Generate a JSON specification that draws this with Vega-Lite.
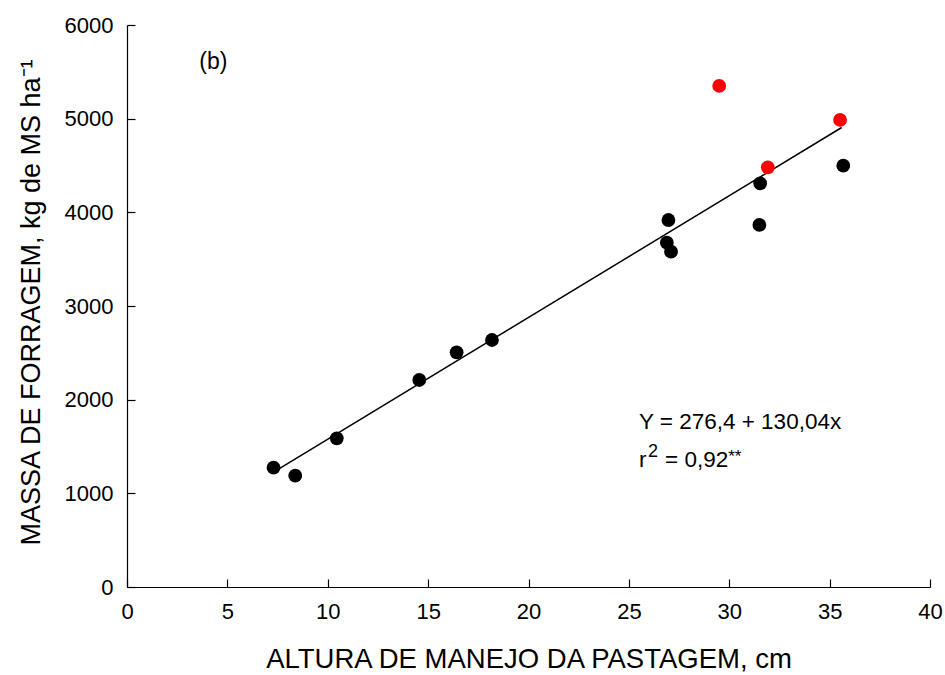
{
  "$schema": "https://vega.github.io/schema/vega-lite/v6.json",
  "autosize": {"type": "none"},
  "width": 803,
  "height": 562,
  "padding": {"left": 127, "top": 25, "right": 15, "bottom": 88},
  "background": "white",
  "config": {
    "view": {"stroke": null},
    "font": "Liberation Sans",
    "axis": {
      "grid": false,
      "domainColor": "black",
      "domainWidth": 1.2,
      "tickColor": "black",
      "tickWidth": 1.2,
      "tickSize": -8,
      "labelFont": "Liberation Sans",
      "labelFontSize": 22,
      "labelColor": "black",
      "titleFont": "Liberation Sans",
      "titleFontWeight": "normal",
      "titleColor": "black",
      "format": "d"
    }
  },
  "datasets": {
    "pts": [
      {"altura": 7.30, "massa": 1274, "grupo": "a"},
      {"altura": 8.38, "massa": 1188, "grupo": "a"},
      {"altura": 10.45, "massa": 1587, "grupo": "a"},
      {"altura": 14.56, "massa": 2210, "grupo": "a"},
      {"altura": 16.42, "massa": 2505, "grupo": "a"},
      {"altura": 18.18, "massa": 2637, "grupo": "a"},
      {"altura": 26.97, "massa": 3918, "grupo": "a"},
      {"altura": 26.89, "massa": 3676, "grupo": "a"},
      {"altura": 27.10, "massa": 3580, "grupo": "a"},
      {"altura": 31.54, "massa": 4310, "grupo": "a"},
      {"altura": 31.50, "massa": 3865, "grupo": "a"},
      {"altura": 35.68, "massa": 4498, "grupo": "a"},
      {"altura": 29.50, "massa": 5349, "grupo": "b"},
      {"altura": 31.92, "massa": 4481, "grupo": "b"},
      {"altura": 35.52, "massa": 4986, "grupo": "b"}
    ],
    "fit": [
      {"altura": 7.3, "massa": 1225.7},
      {"altura": 35.6, "massa": 4905.8}
    ],
    "one": [{}]
  },
  "layer": [
    {
      "data": {"name": "fit"},
      "mark": {"type": "line", "color": "black", "strokeWidth": 1.5},
      "encoding": {
        "x": {"field": "altura", "type": "quantitative", "scale": {"domain": [0, 40]},
          "axis": {"values": [0,5,10,15,20,25,30,35,40], "format": "d", "labelFlush": false, "title": "ALTURA DE MANEJO DA PASTAGEM, cm", "titleFontSize": 27.5, "titleBaseline": "alphabetic", "titleY": 80, "labelPadding": 22}},
        "y": {"field": "massa", "type": "quantitative", "scale": {"domain": [0, 6000]},
          "axis": {"values": [0,1000,2000,3000,4000,5000,6000], "format": "d", "labelFlush": false, "title": "MASSA DE FORRAGEM, kg de MS ha⁻¹", "titleFontSize": 27, "titleBaseline": "alphabetic", "titleX": -88, "titleY": 277, "titleAngle": 270, "labelPadding": 22}}
      }
    },
    {
      "data": {"name": "pts"},
      "mark": {"type": "point", "filled": true, "opacity": 1, "size": 190, "shape": "circle"},
      "encoding": {
        "x": {"field": "altura", "type": "quantitative"},
        "y": {"field": "massa", "type": "quantitative"},
        "color": {"field": "grupo", "type": "nominal", "scale": {"domain": ["a", "b"], "range": ["#000000", "#ff0000"]}, "legend": null}
      }
    },
    {
      "data": {"name": "one"},
      "mark": {"type": "text", "text": "(b)", "fontSize": 23, "align": "left", "baseline": "middle", "color": "black"},
      "encoding": {"x": {"datum": 3.6}, "y": {"datum": 5605}}
    },
    {
      "data": {"name": "one"},
      "mark": {"type": "text", "text": "Y = 276,4 + 130,04x", "fontSize": 22.5, "align": "left", "baseline": "alphabetic", "color": "black"},
      "encoding": {"x": {"datum": 25.5}, "y": {"datum": 1686}}
    },
    {
      "data": {"name": "one"},
      "mark": {"type": "text", "text": "r", "fontSize": 22.5, "align": "left", "baseline": "alphabetic", "color": "black"},
      "encoding": {"x": {"datum": 25.5}, "y": {"datum": 1281}}
    },
    {
      "data": {"name": "one"},
      "mark": {"type": "text", "text": "2", "fontSize": 18, "align": "left", "baseline": "alphabetic", "color": "black"},
      "encoding": {"x": {"datum": 25.95}, "y": {"datum": 1388}}
    },
    {
      "data": {"name": "one"},
      "mark": {"type": "text", "text": "= 0,92", "fontSize": 22.5, "align": "left", "baseline": "alphabetic", "color": "black"},
      "encoding": {"x": {"datum": 26.8}, "y": {"datum": 1281}}
    },
    {
      "data": {"name": "one"},
      "mark": {"type": "text", "text": "**", "fontSize": 17, "align": "left", "baseline": "alphabetic", "color": "black"},
      "encoding": {"x": {"datum": 29.95}, "y": {"datum": 1334}}
    }
  ]
}
